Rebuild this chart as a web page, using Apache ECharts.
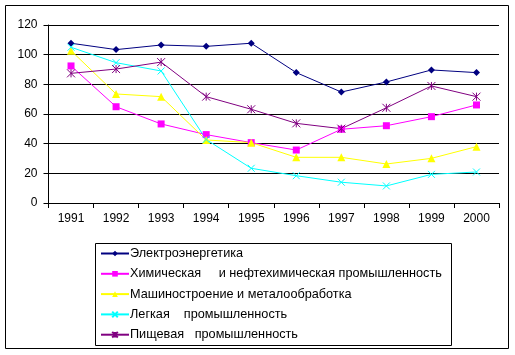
<!DOCTYPE html>
<html><head><meta charset="utf-8">
<script src="https://cdn.jsdelivr.net/npm/echarts@6/dist/echarts.min.js"></script>
<style>html,body{margin:0;padding:0;background:#fff}#c{width:515px;height:355px}</style>
</head><body><div id="c"></div>
<script>
const years = ['1991','1992','1993','1994','1995','1996','1997','1998','1999','2000'];
const names = ['Электроэнергетика','Химическая     и нефтехимическая промышленность','Машиностроение и металообработка','Легкая    промышленность','Пищевая   промышленность'];
const electro = [107.7,103.4,106.5,105.6,107.7,87.9,74.8,81.6,89.7,87.9];
const chem = [92.4,64.9,53.3,46.1,40.7,35.7,49.7,52.1,58.2,66.1];
const machine = [102.7,73.5,71.7,42.5,40.7,30.8,30.8,26.3,30.1,38.0];
const light = [105.0,94.6,89.0,42.8,23.4,18.4,14.0,11.5,19.3,20.9];
const food = [87.4,90.3,95.0,71.7,63.2,53.7,50.1,64.2,78.9,71.7];
const yTicks = {min:0,max:120,interval:20};

const colors = ['#000080','#FF00FF','#FFFF00','#00FFFF','#800080'];
const symbols = ['diamond','rect','triangle','path://M0,0L10,10M10,0L0,10','path://M0,0L10,10M10,0L0,10M5,0L5,10'];
const sizes = [7,7,8,7,8];
const datas = [electro,chem,machine,light,food];

const series = datas.map((d,i)=>({
  name:names[i], type:'line', data:d, symbol:symbols[i], symbolSize:sizes[i],
  showAllSymbol:true,
  lineStyle:{color:colors[i],width:1},
  itemStyle:{color:colors[i],borderColor:colors[i],borderWidth:i>=3?1:0},
  emphasis:{disabled:true}, animation:false
}));

const chart = echarts.init(document.getElementById('c'),null,{renderer:'canvas'});
chart.setOption({
  animation:false,
  textStyle:{fontFamily:'Liberation Sans, Arial, sans-serif'},
  graphic:[
    {type:'rect',shape:{x:5.5,y:5.5,width:503,height:343},style:{fill:'none',stroke:'#000',lineWidth:1},z:-1},
    {type:'rect',shape:{x:95.5,y:243.5,width:356,height:102},style:{fill:'none',stroke:'#000',lineWidth:1},z:-1}
  ],
  grid:{left:48.5,right:16,top:25,bottom:152,containLabel:false},
  legend:{orient:'vertical',left:100,top:247,padding:0,itemWidth:28,itemHeight:7,itemGap:7.3,
    textStyle:{color:'#000',fontSize:12.7,padding:[0,0,0,-4],fontFamily:'Liberation Sans, Arial, sans-serif'},
    data:names, selectedMode:false},
  xAxis:{type:'category',data:years,boundaryGap:true,
    axisLine:{lineStyle:{color:'#000',width:1}},
    axisTick:{show:true,length:5,lineStyle:{color:'#000'}},
    axisLabel:{color:'#000',fontSize:12,margin:10},
    splitLine:{show:false}},
  yAxis:{type:'value',min:yTicks.min,max:yTicks.max,interval:yTicks.interval,
    axisLine:{show:true,lineStyle:{color:'#000',width:1}},
    axisTick:{show:true,length:5,lineStyle:{color:'#000'}},
    axisLabel:{color:'#000',fontSize:12,margin:11},
    splitLine:{show:true,lineStyle:{color:'#000',width:1}}},
  series:series
});
</script></body></html>
